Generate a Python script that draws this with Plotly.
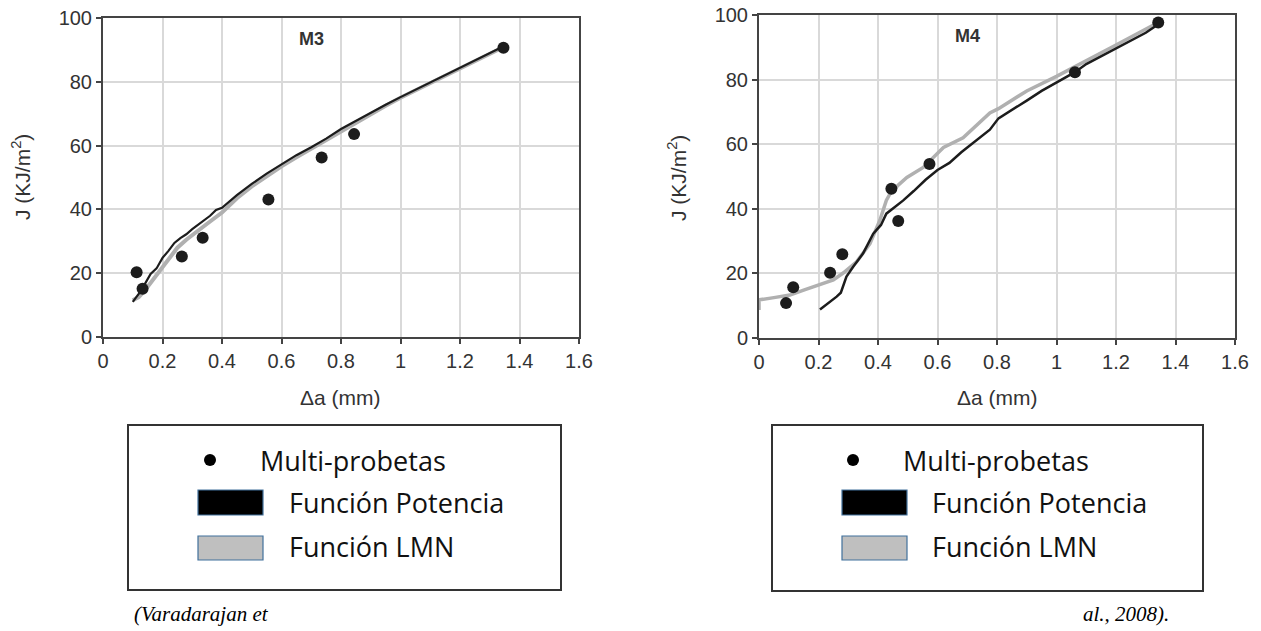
import plotly.graph_objects as go

W, H = 1261, 631

# ---- data ----
m3_pts_x = [0.113, 0.133, 0.265, 0.335, 0.556, 0.735, 0.844, 1.346]
m3_pts_y = [20.3, 15.1, 25.2, 31.1, 43.1, 56.3, 63.6, 90.7]

m3_pot_x = [0.10, 0.12, 0.14, 0.16, 0.18, 0.20, 0.22, 0.24, 0.26, 0.28, 0.30, 0.33, 0.36, 0.38,
            0.40, 0.45, 0.50, 0.55, 0.60, 0.65, 0.70, 0.75, 0.80, 0.85, 0.90, 0.95, 1.00, 1.05,
            1.10, 1.15, 1.20, 1.25, 1.30, 1.34]
m3_pot_y = [11.0, 13.5, 16.5, 19.8, 21.5, 24.8, 27.0, 29.5, 31.0, 32.2, 33.8, 36.0, 38.0, 39.8,
            40.5, 44.5, 48.0, 51.2, 54.0, 57.0, 59.5, 62.2, 65.2, 67.8, 70.2, 72.8, 75.2, 77.5,
            79.6, 82.0, 84.3, 86.6, 89.0, 90.8]

m3_lmn_x = [0.10, 0.12, 0.14, 0.16, 0.18, 0.20, 0.22, 0.25, 0.28, 0.30, 0.35, 0.40, 0.45,
            0.50, 0.55, 0.60, 0.65, 0.70, 0.75, 0.80, 0.85, 0.90, 0.95, 1.00, 1.05, 1.10, 1.15,
            1.20, 1.25, 1.30, 1.34]
m3_lmn_y = [11.5, 12.5, 14.5, 17.0, 19.5, 22.0, 24.5, 28.0, 30.5, 32.0, 35.5, 39.0, 43.5,
            47.2, 50.5, 53.5, 56.3, 59.0, 61.8, 64.5, 67.3, 70.0, 72.5, 75.0, 77.3, 79.6, 82.0,
            84.5, 86.7, 89.0, 90.6]

m4_pts_x = [0.091, 0.115, 0.239, 0.28, 0.445, 0.468, 0.573, 1.062, 1.342]
m4_pts_y = [10.8, 15.7, 20.2, 25.9, 46.2, 36.2, 53.9, 82.3, 97.7]

m4_pot_x = [0.205, 0.227, 0.245, 0.261, 0.275, 0.283, 0.294, 0.316, 0.35, 0.384, 0.41, 0.428,
            0.455, 0.485, 0.52, 0.56, 0.60, 0.64, 0.68, 0.72, 0.776, 0.805, 0.85, 0.90, 0.95,
            1.00, 1.062, 1.10, 1.15, 1.20, 1.25, 1.30, 1.34]
m4_pot_y = [8.8, 10.3, 11.5, 12.8, 14.0, 15.9, 19.0, 22.0, 26.2, 32.3, 35.0, 38.5,
            40.5, 42.6, 45.5, 49.0, 52.0, 54.2, 57.5, 60.5, 64.5, 68.0, 70.5, 73.5, 76.5,
            79.0, 82.3, 84.8, 87.2, 89.7, 92.0, 94.5, 97.0]

m4_lmn_x = [0.0, 0.0, 0.05, 0.104, 0.15, 0.2, 0.25, 0.284, 0.328, 0.373, 0.406, 0.428, 0.44,
            0.47, 0.497, 0.552, 0.62, 0.686, 0.776, 0.805, 0.9, 1.0, 1.1, 1.2, 1.326, 1.34]
m4_lmn_y = [8.7, 11.8, 12.5, 13.3, 14.8, 16.4, 18.0, 20.2, 23.6, 29.2, 36.4, 42.6, 44.6,
            47.5, 49.7, 52.8, 59.0, 62.0, 69.7, 71.0, 76.5, 81.0, 86.0, 90.7, 96.9, 97.8]

x_ticks = [0, 0.2, 0.4, 0.6, 0.8, 1.0, 1.2, 1.4, 1.6]
x_tick_labels = ["0", "0.2", "0.4", "0.6", "0.8", "1", "1.2", "1.4", "1.6"]
y_ticks = [0, 20, 40, 60, 80, 100]
y_tick_labels = ["0", "20", "40", "60", "80", "100"]

panel_titles = ["M3", "M4"]
legend_labels = ["Multi-probetas", "Función Potencia", "Función LMN"]
caption_left = "(Varadarajan et"
caption_right = "al., 2008)."
x_title = "Δa (mm)"
y_title = "J (KJ/m<sup>2</sup>)"

BLACK = "#1c1c1c"
GRAY = "#b0b0b0"


def px(x):
    return x / W


def py(y):
    return 1 - y / H


fig = go.Figure()

panels = [
    (m3_lmn_x, m3_lmn_y, m3_pot_x, m3_pot_y, m3_pts_x, m3_pts_y, "x", "y"),
    (m4_lmn_x, m4_lmn_y, m4_pot_x, m4_pot_y, m4_pts_x, m4_pts_y, "x2", "y2"),
]
for i, (lx, ly, bx, by, sx, sy, xa, ya) in enumerate(panels):
    fig.add_trace(go.Scatter(x=lx, y=ly, mode="lines", xaxis=xa, yaxis=ya,
                             line=dict(color=GRAY, width=4 if i == 0 else 3.5), showlegend=False))
    fig.add_trace(go.Scatter(x=bx, y=by, mode="lines", xaxis=xa, yaxis=ya,
                             line=dict(color=BLACK, width=2.2 if i == 0 else 2.5), showlegend=False))
    fig.add_trace(go.Scatter(x=sx, y=sy, mode="markers", xaxis=xa, yaxis=ya,
                             marker=dict(color=BLACK, size=12), showlegend=False))

axis_common = dict(
    showline=True, linecolor="#444", linewidth=2, mirror=True,
    showgrid=True, gridcolor="#d9d9d9", gridwidth=1.5,
    ticks="outside", ticklen=5, tickcolor="#444", tickwidth=1.5,
    tickfont=dict(family="Liberation Sans, Arial", size=20, color="#333"),
    zeroline=False, fixedrange=True, automargin=False,
)

# plot-area pixel boxes
boxes = [(103, 579, 18, 337), (759, 1235, 15, 338)]
(l1, r1, t1, b1), (l2, r2, t2, b2) = boxes

fig.update_layout(
    template="none",
    width=W, height=H,
    margin=dict(l=0, r=0, t=0, b=0, pad=0, autoexpand=False),
    paper_bgcolor="white", plot_bgcolor="white",
    showlegend=False,
    xaxis=dict(domain=[px(l1), px(r1)], range=[0, 1.6], anchor="y",
               tickvals=x_ticks, ticktext=x_tick_labels, **axis_common),
    yaxis=dict(domain=[py(b1), py(t1)], range=[0, 100], anchor="x",
               tickvals=y_ticks, ticktext=y_tick_labels, **axis_common),
    xaxis2=dict(domain=[px(l2), px(r2)], range=[0, 1.6], anchor="y2",
                tickvals=x_ticks, ticktext=x_tick_labels, **axis_common),
    yaxis2=dict(domain=[py(b2), py(t2)], range=[0, 100], anchor="x2",
                tickvals=y_ticks, ticktext=y_tick_labels, **axis_common),
)

ann = []
shapes = []
font_ax = dict(family="Liberation Sans, Arial", size=21, color="#333")

# panel titles
for (xa, ya, t) in [("x", "y", panel_titles[0]), ("x2", "y2", panel_titles[1])]:
    ann.append(dict(x=0.7, y=93.5, xref=xa, yref=ya, text="<b>%s</b>" % t, showarrow=False,
                    xanchor="center", yanchor="middle",
                    font=dict(family="Liberation Sans, Arial", size=18, color="#333")))

# axis titles
for cx, cy in [(340, 397), (997, 398)]:
    ann.append(dict(x=px(cx), y=py(cy), xref="paper", yref="paper", text=x_title,
                    xanchor="center", yanchor="middle", showarrow=False, font=font_ax))
for cx, cy in [(21, 177), (677, 178)]:
    ann.append(dict(x=px(cx), y=py(cy), xref="paper", yref="paper", text=y_title,
                    xanchor="center", yanchor="middle",
                    showarrow=False, textangle=-90, font=font_ax))

# legend boxes
leg_font = dict(family="Open Sans, Noto Sans", size=27, color="#111")
for (bx0, bx1, by0, by1, dotx, txt1, rx0, rx1, txt2) in [
    (128, 561, 425, 590, 210, 258, 198, 263, 287),
    (772, 1203, 425, 591, 853, 901, 842, 907, 930),
]:
    shapes.append(dict(type="rect", xref="paper", yref="paper",
                       x0=px(bx0), x1=px(bx1), y0=py(by1), y1=py(by0),
                       line=dict(color="#333", width=2), fillcolor="white"))
    shapes.append(dict(type="circle", xref="paper", yref="paper",
                       x0=px(dotx - 6), x1=px(dotx + 6), y0=py(466), y1=py(454),
                       line=dict(color="black", width=0), fillcolor="black"))
    shapes.append(dict(type="rect", xref="paper", yref="paper",
                       x0=px(rx0), x1=px(rx1), y0=py(515), y1=py(490),
                       line=dict(color="#41719c", width=1.2), fillcolor="black"))
    shapes.append(dict(type="rect", xref="paper", yref="paper",
                       x0=px(rx0), x1=px(rx1), y0=py(560), y1=py(536),
                       line=dict(color="#41719c", width=1.2), fillcolor="#bfbfbf"))
    for lab, ty, tx in [(legend_labels[0], 460, txt1), (legend_labels[1], 502, txt2),
                        (legend_labels[2], 546, txt2)]:
        ann.append(dict(x=px(tx), y=py(ty), xref="paper", yref="paper", xanchor="left",
                        yanchor="middle", text=lab, showarrow=False, font=leg_font))

cap_font = dict(family="Liberation Serif, Times New Roman", size=21, color="black")
ann.append(dict(x=px(132), y=py(614), xref="paper", yref="paper", xanchor="left",
                yanchor="middle", text="<i>%s</i>" % caption_left, showarrow=False, font=cap_font))
ann.append(dict(x=px(1171), y=py(614), xref="paper", yref="paper", xanchor="right",
                yanchor="middle", text="<i>%s</i>" % caption_right, showarrow=False, font=cap_font))

fig.update_layout(annotations=ann, shapes=shapes)
fig.write_html("out.html")
